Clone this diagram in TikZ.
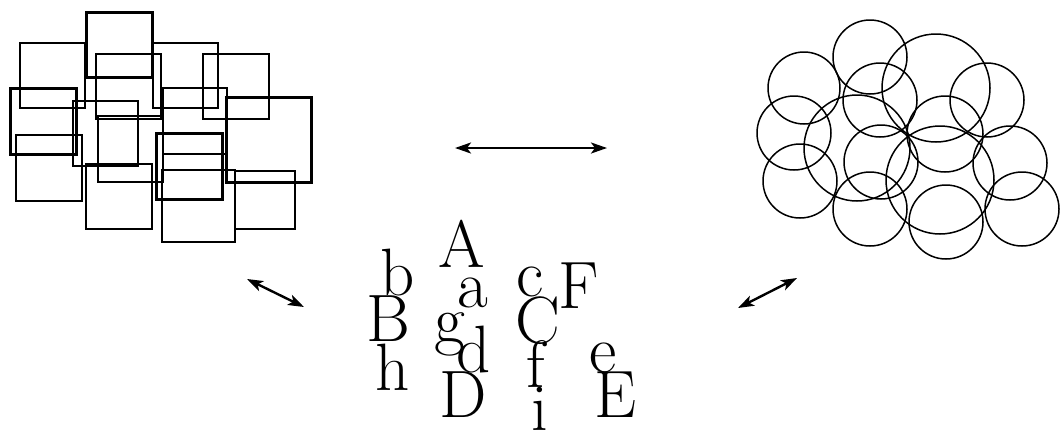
\documentclass[tikz,border=0pt]{standalone}
\usetikzlibrary{arrows.meta}
\begin{document}
\begin{tikzpicture}[x=1pt,y=-1pt,
  sq/.style={line width=2.1pt},
  sqb/.style={line width=3pt},
  ring/.style={line width=1.5pt},
  glyph/.style={anchor=base,inner sep=0pt,font=\fontsize{67}{67}\selectfont},
  tip/.tip={Stealth[length=16pt,width=11pt,inset=4pt]},
  link/.style={line width=2.4pt,tip-tip}]
\useasboundingbox (0,0) rectangle (1060,432);

% cluster of squares
\draw[sqb] (86,12) rectangle (152,77);
\draw[sq]  (20,43) rectangle (85,108);
\draw[sq]  (96,54) rectangle (161,119);
\draw[sq]  (153,43) rectangle (218,108);
\draw[sq]  (203,54) rectangle (269,119);
\draw[sqb] (10,88) rectangle (76,154);
\draw[sq]  (73,101) rectangle (138,166);
\draw[sq]  (98,116) rectangle (163,182);
\draw[sq]  (163,88) rectangle (227,154);
\draw[sqb] (226,97) rectangle (311,182);
\draw[sq]  (16,135) rectangle (82,201);
\draw[sqb] (156,133) rectangle (222,199);
\draw[sq]  (86,164) rectangle (152,229);
\draw[sq]  (162,170) rectangle (235,242);
\draw[sq]  (235,171) rectangle (295,229);

% cluster of circles
\foreach \cx/\cy/\r in {804/88/36, 870/57/37, 936/88/54, 880/100/37, 987/100/37,
  794/133/37, 857/148/53, 945/134/38, 881/162/37, 940/180/54, 1010/163/37,
  800/181/37, 870/209/37, 946/222/37, 1022/209/37}
  \draw[ring] (\cx,\cy) circle[radius=\r pt];

% scattered letters
\node[glyph] (A) at (462,267) {A};
\node[glyph] (b) at (398,295) {b};
\node[glyph] (a) at (473,307) {a};
\node[glyph] (c) at (530,296) {c};
\node[glyph] (F) at (579,308) {F};
\node[glyph] (B) at (388,341) {B};
\node[glyph] (g) at (450,342) {g};
\node[glyph] (C) at (538,343) {C};
\node[glyph] (d) at (474,372) {d};
\node[glyph] (h) at (393,390) {h};
\node[glyph] (f) at (536,387) {f};
\node[glyph] (e) at (603,372) {e};
\node[glyph] (D) at (463,417) {D};
\node[glyph] (i) at (540,430) {i};
\node[glyph] (E) at (616,417) {E};

% double-headed arrows between the groups
\coordinate (h1) at (455,148);
\coordinate (h2) at (607,148);
\coordinate (l1) at (247,279);
\coordinate (l2) at (304,307);
\coordinate (r1) at (738,308);
\coordinate (r2) at (797,278);
\draw[link] (h1) -- (h2);
\draw[link] (l1) -- (l2);
\draw[link] (r1) -- (r2);
\end{tikzpicture}
\end{document}
